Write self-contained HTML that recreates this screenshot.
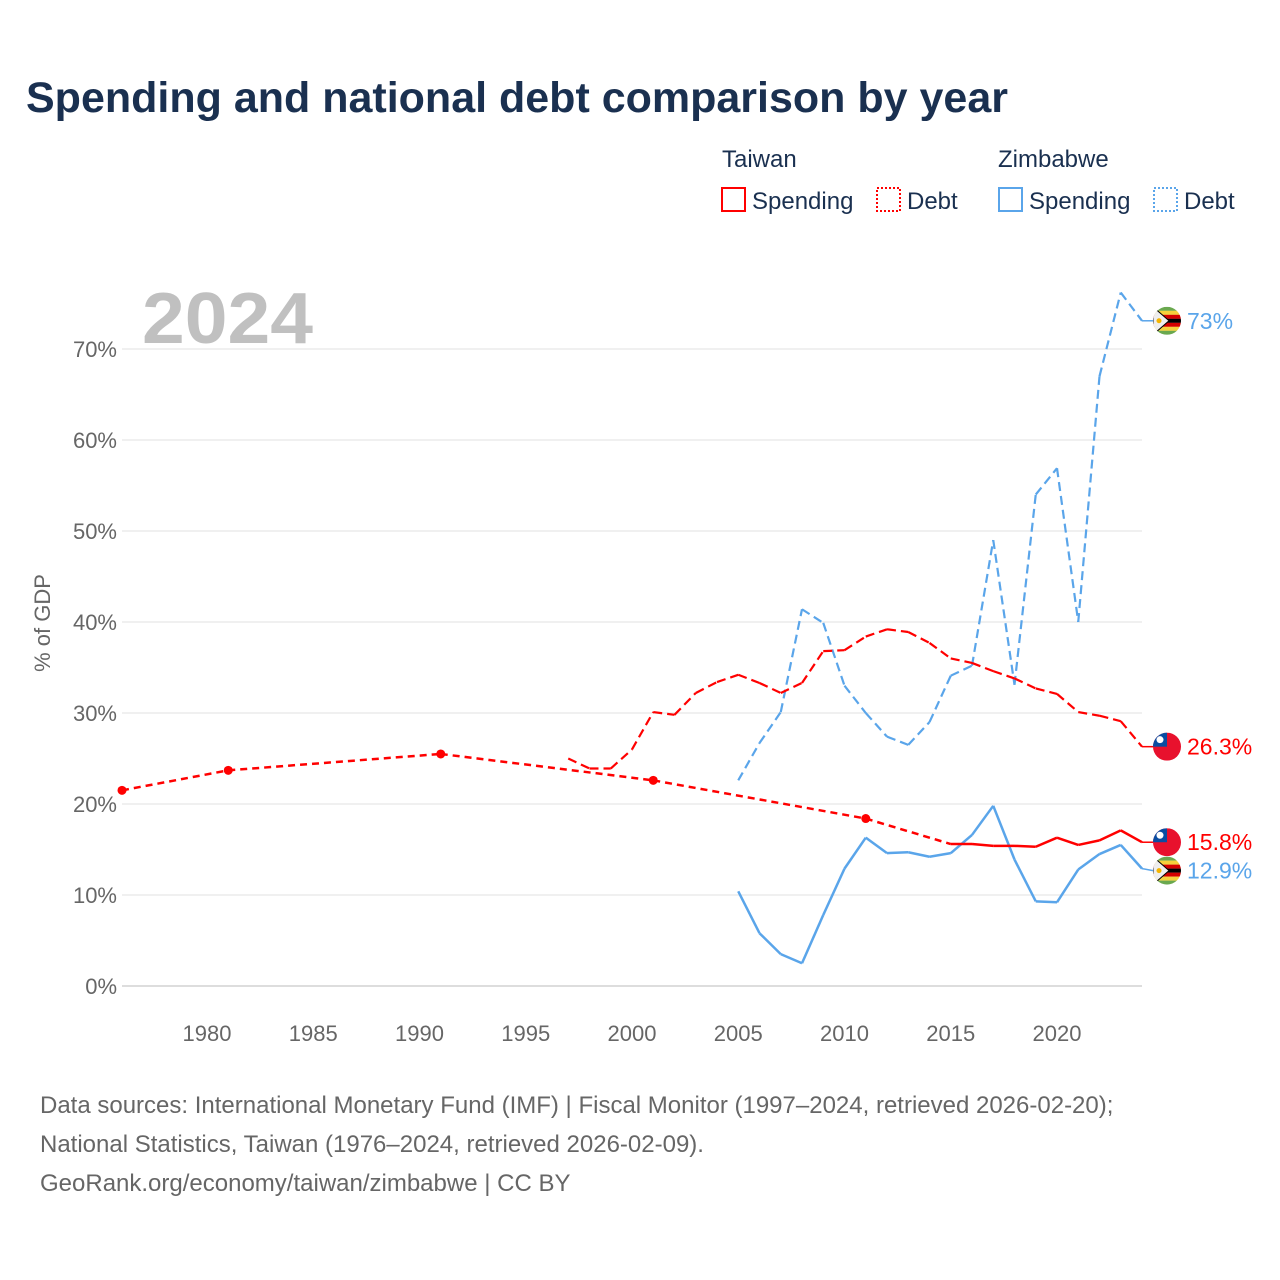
<!DOCTYPE html>
<html><head><meta charset="utf-8">
<style>
body{margin:0;background:#fff;}
svg{display:block;font-family:"Liberation Sans",sans-serif;}
</style></head>
<body>
<svg id="chart" width="1280" height="1280" viewBox="0 0 1280 1280">
<text x="26" y="112" font-size="43" font-weight="bold" fill="#1a3050" textLength="982" lengthAdjust="spacingAndGlyphs">Spending and national debt comparison by year</text>
<g fill="#1a3050" font-size="24">
 <text x="722" y="167">Taiwan</text>
 <text x="998" y="167">Zimbabwe</text>
 <g><rect x="722" y="188" width="23" height="23" fill="none" stroke="#ff0000" stroke-width="2"/><text x="752" y="209">Spending</text></g>
 <g><rect x="877" y="188" width="23" height="23" fill="none" stroke="#ff0000" stroke-width="2" stroke-dasharray="2,2"/><text x="907" y="209">Debt</text></g>
 <g><rect x="999" y="188" width="23" height="23" fill="none" stroke="#5aa5ea" stroke-width="2"/><text x="1029" y="209">Spending</text></g>
 <g><rect x="1154" y="188" width="23" height="23" fill="none" stroke="#5aa5ea" stroke-width="2" stroke-dasharray="2,2"/><text x="1184" y="209">Debt</text></g>
</g>
<text x="142" y="343" font-size="72" font-weight="bold" fill="#c0c0c0" textLength="171" lengthAdjust="spacingAndGlyphs">2024</text>
<text transform="translate(50,623) rotate(-90)" text-anchor="middle" font-size="22" fill="#666">% of GDP</text>
<g id="grid"></g><g id="xaxis"></g><g id="series"></g><g id="ends"></g>
<g font-size="24" fill="#666">
<text x="40" y="1113">Data sources: International Monetary Fund (IMF) | Fiscal Monitor (1997–2024, retrieved 2026-02-20);</text>
<text x="40" y="1152">National Statistics, Taiwan (1976–2024, retrieved 2026-02-09).</text>
<text x="40" y="1191">GeoRank.org/economy/taiwan/zimbabwe | CC BY</text>
</g>
</svg>
<script>
const yTicks=[0,10,20,30,40,50,60,70];
const xTicks=[1980,1985,1990,1995,2000,2005,2010,2015,2020];
const twSpendYears=[1976,1981,1991,2001,2011,2015,2016,2017,2018,2019,2020,2021,2022,2023,2024];
const twSpendVals=[21.5,23.7,25.5,22.6,18.4,15.6,15.6,15.4,15.4,15.3,16.3,15.5,16.0,17.1,15.8];
const twDebtYears=[1997,1998,1999,2000,2001,2002,2003,2004,2005,2006,2007,2008,2009,2010,2011,2012,2013,2014,2015,2016,2017,2018,2019,2020,2021,2022,2023,2024];
const twDebtVals=[25.0,23.9,23.9,26.0,30.1,29.8,32.2,33.4,34.2,33.3,32.2,33.3,36.8,36.9,38.4,39.2,38.9,37.7,36.0,35.5,34.6,33.8,32.7,32.1,30.1,29.7,29.1,26.3];
const zwYears=[2005,2006,2007,2008,2009,2010,2011,2012,2013,2014,2015,2016,2017,2018,2019,2020,2021,2022,2023,2024];
const zwSpendVals=[10.4,5.8,3.5,2.5,7.8,12.9,16.3,14.6,14.7,14.2,14.6,16.6,19.8,13.9,9.3,9.2,12.8,14.5,15.5,12.9];
const zwDebtVals=[22.6,26.7,30.1,41.4,39.9,33.0,30.0,27.4,26.5,29.0,34.1,35.2,49.0,33.1,54.0,56.9,40.0,67.0,76.2,73.1];
const labels=[{v:73.1,t:"73%",c:"#5aa5ea",f:"zw",n:"zimbabwe-debt"},{v:26.3,t:"26.3%",c:"#ff0000",f:"tw",n:"taiwan-debt"},{v:15.8,t:"15.8%",c:"#ff0000",f:"tw",n:"taiwan-spending"},{v:12.9,t:"12.9%",c:"#5aa5ea",f:"zw",n:"zimbabwe-spending"}];
const NS="http://www.w3.org/2000/svg";
const X=yr=>122+(yr-1976)*21.25;
const Y=v=>986-v*9.1;
function mk(tag,attrs,parent){const e=document.createElementNS(NS,tag);for(const k in attrs)e.setAttribute(k,attrs[k]);parent.appendChild(e);return e;}
const grid=document.getElementById('grid'),xa=document.getElementById('xaxis'),ser=document.getElementById('series'),ends=document.getElementById('ends');
yTicks.forEach(t=>{
 const l=mk('line',{x1:122,x2:1142,y1:Y(t),y2:Y(t),stroke:t===0?'#ddd':'#ebebeb','stroke-width':t===0?2:1.5},grid);
 
 
 const tx=mk('text',{x:117,y:Y(t)+8,'text-anchor':'end','font-size':22,fill:'#666'},grid);
 tx.textContent=t+'%';
 
 
});
xTicks.forEach(t=>{
 const tx=mk('text',{x:X(t),y:1041,'text-anchor':'middle','font-size':22,fill:'#666'},xa);
 tx.textContent=t;
 
 
});
function draw(years,vals,color,dashAll,name,dots){
 const g=mk('g',{},ser);
 
 
 for(let i=1;i<years.length;i++){
  const gap=years[i]-years[i-1]>1;
  const a={x1:X(years[i-1]),y1:Y(vals[i-1]),x2:X(years[i]),y2:Y(vals[i]),stroke:color,'stroke-width':dashAll?2.2:2.5,'stroke-linecap':'butt'};
  if(dashAll)a['stroke-dasharray']='9,5';
  else if(gap)a['stroke-dasharray']='7,5';
  mk('line',a,g);
 }
 if(dots){years.forEach((y,i)=>{
  const prevGap=i===0||years[i]-years[i-1]>1, nextGap=i===years.length-1||years[i+1]-years[i]>1;
  if(prevGap&&nextGap){const c=mk('circle',{cx:X(y),cy:Y(vals[i]),r:4.5,fill:color},g);
   
   }
 });}
}
draw(zwYears,zwDebtVals,'#5aa5ea',true,'zimbabwe-debt',false);
draw(zwYears,zwSpendVals,'#5aa5ea',false,'zimbabwe-spending',false);
draw(twDebtYears,twDebtVals,'#ff0000',true,'taiwan-debt',false);
draw(twSpendYears,twSpendVals,'#ff0000',false,'taiwan-spending',true);
function flag(cx,cy,type,parent){
 const g=mk('g',{},parent);
 const id='c'+Math.round(cx)+Math.round(cy);
 const cp=mk('clipPath',{id:id},g);mk('circle',{cx:cx,cy:cy,r:14},cp);
 const f=mk('g',{'clip-path':'url(#'+id+')'},g);
 if(type==='tw'){
  mk('rect',{x:cx-14,y:cy-14,width:28,height:28,fill:'#e8112d'},f);
  mk('rect',{x:cx-14,y:cy-14,width:14,height:14,fill:'#0a4da2'},f);
  mk('circle',{cx:cx-7,cy:cy-7,r:3.5,fill:'#fff'},f);
 } else {
  const cols=['#6aa84f','#f5d03c','#d40000','#000','#d40000','#f5d03c','#6aa84f'];
  cols.forEach((c,i)=>mk('rect',{x:cx-14,y:cy-14+i*4,width:28,height:4.1,fill:c},f));
  mk('polygon',{points:(cx-14)+','+(cy-14)+' '+(cx+2)+','+cy+' '+(cx-14)+','+(cy+14),fill:'#eee',stroke:'#000','stroke-width':1},f);
  mk('circle',{cx:cx-8,cy:cy,r:2.5,fill:'#f5b400'},f);
 }
 return g;
}
labels.forEach(L=>{
 let y=Y(L.v);
 if(L.n==='zimbabwe-spending')y+=2;
 mk('line',{x1:1142,x2:1153,y1:Y(L.v),y2:y,stroke:L.c,'stroke-width':1.5},ends);
 const fg=flag(1167,y,L.f,ends);
 
 
 const t=mk('text',{x:1187,y:y+8,'font-size':23,fill:L.c},ends);
 t.textContent=L.t;
 
 
});
</script>
</body></html>
